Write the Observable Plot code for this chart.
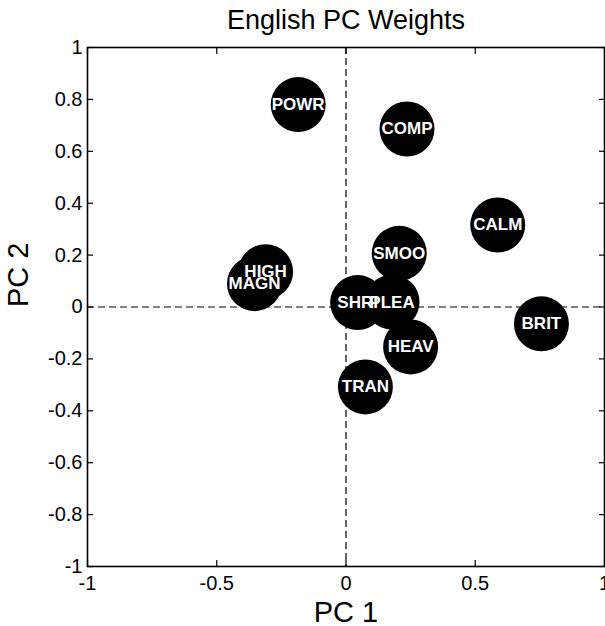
<!DOCTYPE html>
<html><head><meta charset="utf-8">
<script src="https://cdn.jsdelivr.net/npm/d3@7"></script>
<script src="https://cdn.jsdelivr.net/npm/@observablehq/plot@0.6"></script>
<style>body{margin:0;background:#fff} svg{display:block}</style>
</head><body><div id="chart"></div>
<script>
const labels = ["POWR","COMP","CALM","SMOO","HIGH","MAGN","SHRI","PLEA","BRIT","HEAV","TRAN"];
const pc1 = [-0.185, 0.236, 0.587, 0.206, -0.311, -0.354, 0.045, 0.178, 0.756, 0.25, 0.075];
const pc2 = [0.78, 0.686, 0.316, 0.207, 0.136, 0.090, 0.017, 0.019, -0.065, -0.154, -0.308];
const xTicks = [-1, -0.5, 0, 0.5, 1];
const yTicks = [-1, -0.8, -0.6, -0.4, -0.2, 0, 0.2, 0.4, 0.6, 0.8, 1];
const title = "English PC Weights";
const xLabel = "PC 1";
const yLabel = "PC 2";

const pts = labels.map((d, i) => ({name: d, x: pc1[i], y: pc2[i]}));
const font = "Liberation Sans, Arial, Helvetica, sans-serif";

const chart = Plot.plot({
  width: 605,
  height: 626,
  marginTop: 47,
  marginRight: 1,
  marginBottom: 60,
  marginLeft: 87,
  style: {fontFamily: font, background: "white", color: "black", overflow: "visible"},
  x: {domain: [-1, 1], label: null},
  y: {domain: [-1, 1], label: null},
  marks: [
    Plot.ruleX([0], {stroke: "black", strokeWidth: 1.2, strokeDasharray: "7,4"}),
    Plot.ruleY([0], {stroke: "black", strokeWidth: 1.2, strokeDasharray: "7,4"}),
    Plot.dot(pts, {x: "x", y: "y", r: 27.5, fill: "black", stroke: "none"}),
    Plot.text(pts, {x: "x", y: "y", text: "name", fill: "white", fontSize: 17, fontWeight: "bold", fontFamily: font}),
    Plot.axisX(xTicks, {anchor: "bottom", tickSize: -6, tickPadding: 15, fontSize: 20, tickFormat: d => String(d), strokeWidth: 1.2}),
    Plot.axisX(xTicks, {anchor: "top", tickSize: -6, tickFormat: () => "", strokeWidth: 1.2}),
    Plot.axisY(yTicks, {anchor: "left", tickSize: -6, tickPadding: 11, fontSize: 20, tickFormat: d => String(d), strokeWidth: 1.2}),
    Plot.axisY(yTicks, {anchor: "right", tickSize: -6, tickFormat: () => "", strokeWidth: 1.2}),
    Plot.frame({stroke: "black", strokeWidth: 1.6}),
    Plot.text([title], {frameAnchor: "top", lineAnchor: "middle", dy: -27.6, fontSize: 27, fill: "black"}),
    Plot.text([xLabel], {frameAnchor: "bottom", lineAnchor: "middle", dy: 46.7, fontSize: 29, fill: "black"}),
    Plot.text([yLabel], {frameAnchor: "left", lineAnchor: "middle", dx: -68.3, rotate: -90, fontSize: 29, fill: "black"})
  ]
});
document.getElementById("chart").appendChild(chart);
</script>
</body></html>
